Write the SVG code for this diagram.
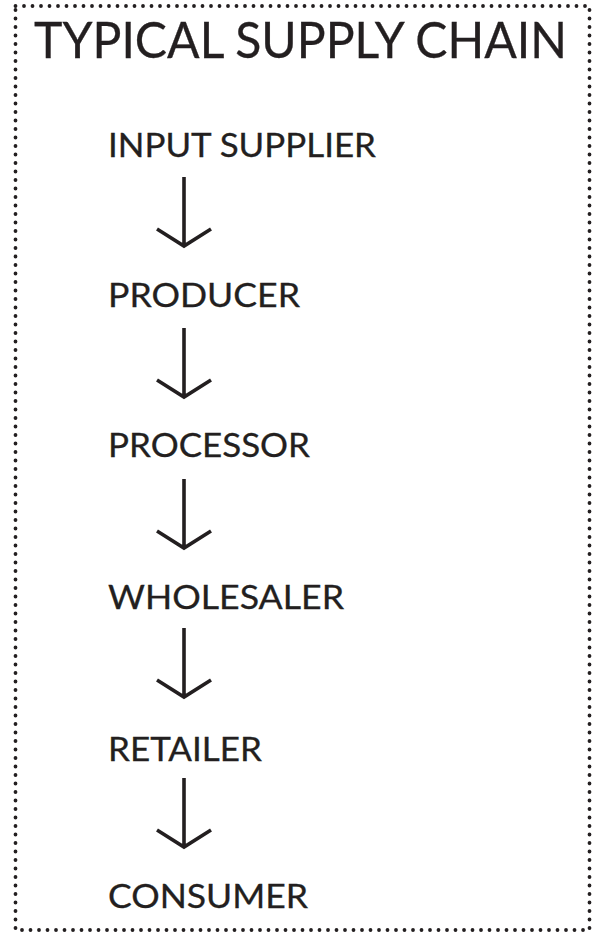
<svg xmlns="http://www.w3.org/2000/svg" width="597" height="940" viewBox="0 0 597 940">
<style>
.lbl{font-family:Lato,"Liberation Sans",sans-serif;font-size:33px;fill:#231f20;stroke:#231f20;stroke-width:0.3;}
.ttl{font-family:Lato,"Liberation Sans",sans-serif;font-size:50px;fill:#231f20;stroke:#231f20;stroke-width:0.3;}
.arr{fill:none;stroke:#231f20;stroke-width:3.6;stroke-linecap:butt;stroke-linejoin:miter;}
</style>
<rect width="597" height="940" fill="#ffffff"/>
<rect id="frame" x="15.5" y="6" width="574" height="924" fill="none" stroke="#231f20" stroke-width="3.8" stroke-linecap="round" stroke-dasharray="0 8.5"/>
<g id="title"><text class="ttl" x="34" y="58" textLength="533" lengthAdjust="spacingAndGlyphs">TYPICAL SUPPLY CHAIN</text></g>
<g id="input-supplier"><text class="lbl" x="108" y="157" textLength="268" lengthAdjust="spacingAndGlyphs">INPUT SUPPLIER</text></g>
<g id="producer"><text class="lbl" x="108" y="307" textLength="192" lengthAdjust="spacingAndGlyphs">PRODUCER</text></g>
<g id="processor"><text class="lbl" x="108" y="457" textLength="202" lengthAdjust="spacingAndGlyphs">PROCESSOR</text></g>
<g id="wholesaler"><text class="lbl" x="108" y="609" textLength="236" lengthAdjust="spacingAndGlyphs">WHOLESALER</text></g>
<g id="retailer"><text class="lbl" x="108" y="761" textLength="154" lengthAdjust="spacingAndGlyphs">RETAILER</text></g>
<g id="consumer"><text class="lbl" x="108" y="908" textLength="200" lengthAdjust="spacingAndGlyphs">CONSUMER</text></g>
<g id="connectors">
<path class="arr" d="M184 177V246M157 229L184 246L211 229"/>
<path class="arr" d="M184 328V397M157 380L184 397L211 380"/>
<path class="arr" d="M184 479V548M157 531L184 548L211 531"/>
<path class="arr" d="M184 628V697M157 680L184 697L211 680"/>
<path class="arr" d="M184 778V847M157 830L184 847L211 830"/>
</g>
</svg>
